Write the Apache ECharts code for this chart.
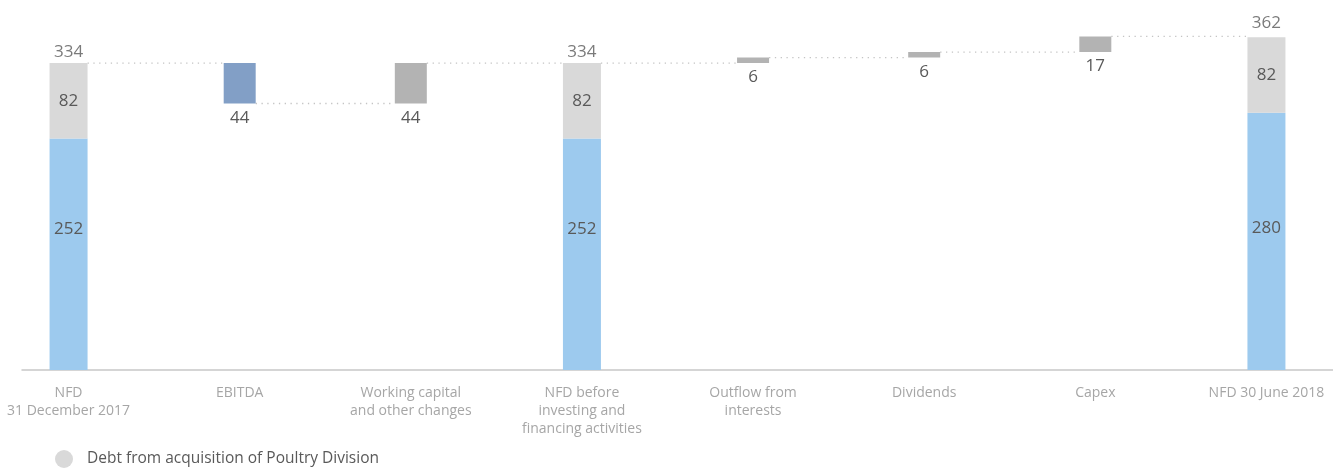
<!DOCTYPE html>
<html><head><meta charset="utf-8">
<script src="https://cdn.jsdelivr.net/npm/echarts@6/dist/echarts.min.js"></script>
<style>html,body{margin:0;padding:0;background:#fff}#c{width:1333px;height:468px}</style>
</head><body><div id="c"></div>
<script>
const categories = ['NFD\n31 December 2017', 'EBITDA', 'Working capital\nand other changes', 'NFD before\ninvesting and\nfinancing activities', 'Outflow from\ninterests', 'Dividends', 'Capex', 'NFD 30 June 2018'];
const nfdCore = [252, '-', '-', 252, '-', '-', '-', 280];
const poultryDebt = [82, '-', '-', 82, '-', '-', '-', 82];
const changes = ['-', -44, 44, '-', 6, 6, 17, '-'];
const totals = [334, '-', '-', 334, '-', '-', '-', 362];
const legendName = 'Debt from acquisition of Poultry Division';

// derived waterfall helpers
const isTotal = totals.map(v => v !== '-');
const base = [], deltas = [], levels = [];
let running = 0;
for (let i = 0; i < categories.length; i++) {
  if (isTotal[i]) {
    running = totals[i];
    base.push('-'); deltas.push('-');
  } else {
    const c = changes[i];
    base.push(Math.min(running, running + c));
    deltas.push({ value: Math.abs(c), itemStyle: { color: c < 0 ? '#829FC6' : '#B3B3B3' } });
    running += c;
  }
  levels.push(running);
}
const connectors = levels.slice(0, -1).map((v, i) => [i, v]);
// label vertical placement inside the blue bars (style only)
const coreLabelPos = { 0: '39%', 3: '39%', 7: '45%' };
const coreData = nfdCore.map((v, i) => v === '-' ? '-' :
  { value: v, label: { position: ['50%', coreLabelPos[i] || '45%'], align: 'center', verticalAlign: 'middle' } });
const totalData = totals.map((v, i) => v === '-' ? '-' :
  { value: v, label: { distance: i === categories.length - 1 ? 6 : 2 } });

const txt = '#595959';
const chart = echarts.init(document.getElementById('c'), null, { renderer: 'canvas' });
chart.setOption({
  animation: false,
  textStyle: { fontFamily: 'Open Sans' },
  grid: [
    { left: -17, right: -19, top: 30, bottom: 98, outerBoundsMode: 'none', containLabel: false },
    { left: 22, right: 0, top: 30, bottom: 98, outerBoundsMode: 'none', containLabel: false }
  ],
  legend: {
    data: [legendName], left: 55, top: 450, padding: 0, icon: 'circle', itemWidth: 18, itemHeight: 18,
    textStyle: { fontSize: 15.5, color: txt, fontFamily: 'Open Sans', padding: [4, 0, 0, 9] }
  },
  xAxis: [
    { type: 'category', data: categories, gridIndex: 0, axisLine: { show: false }, axisTick: { show: false },
      axisLabel: { color: '#a6a6a6', fontSize: 14, lineHeight: 18, margin: 14, fontFamily: 'Open Sans', interval: 0 } },
    { type: 'category', data: categories, gridIndex: 0, show: false },
    { type: 'value', gridIndex: 1, axisLine: { show: true, onZero: false, lineStyle: { color: '#c8c8c8', width: 1.5 } },
      axisTick: { show: false }, axisLabel: { show: false }, splitLine: { show: false } }
  ],
  yAxis: [
    { type: 'value', min: 0, max: 370, show: false, gridIndex: 0 },
    { type: 'value', show: false, gridIndex: 1 }
  ],
  series: [
    { type: 'custom', xAxisIndex: 0, yAxisIndex: 0, data: connectors, z: 1, silent: true,
      renderItem: function (params, api) {
        const i = api.value(0), v = api.value(1);
        const p0 = api.coord([i, v]), p1 = api.coord([i + 1, v]);
        const w0 = isTotal[i] ? 19 : 16, w1 = isTotal[i + 1] ? 19 : 16;
        return { type: 'line', shape: { x1: p0[0] + w0, y1: p0[1], x2: p1[0] - w1, y2: p1[1] },
          style: { stroke: '#c4c4c4', lineWidth: 1.3, lineDash: [1.3, 4.5] } };
      } },
    { name: 'NFD', type: 'bar', xAxisIndex: 0, yAxisIndex: 0, stack: 'tot', barWidth: 38, data: coreData,
      itemStyle: { color: '#9DCAEE' }, label: { show: true, fontSize: 17, color: txt } },
    { name: legendName, type: 'bar', xAxisIndex: 0, yAxisIndex: 0, stack: 'tot', barWidth: 38, data: poultryDebt,
      itemStyle: { color: '#D9D9D9' }, label: { show: true, position: 'inside', fontSize: 17, color: txt } },
    { name: 'base', type: 'bar', xAxisIndex: 1, yAxisIndex: 0, stack: 'chg', barWidth: 32, data: base,
      itemStyle: { color: 'transparent' }, silent: true },
    { name: 'change', type: 'bar', xAxisIndex: 1, yAxisIndex: 0, stack: 'chg', barWidth: 32, data: deltas,
      label: { show: true, position: 'bottom', distance: 6, fontSize: 17, color: txt } },
    { name: 'total', type: 'scatter', xAxisIndex: 0, yAxisIndex: 0, data: totalData, symbolSize: 0,
      label: { show: true, position: 'top', distance: 2, fontSize: 17, color: txt, formatter: p => p.value } }
  ]
});
</script></body></html>
